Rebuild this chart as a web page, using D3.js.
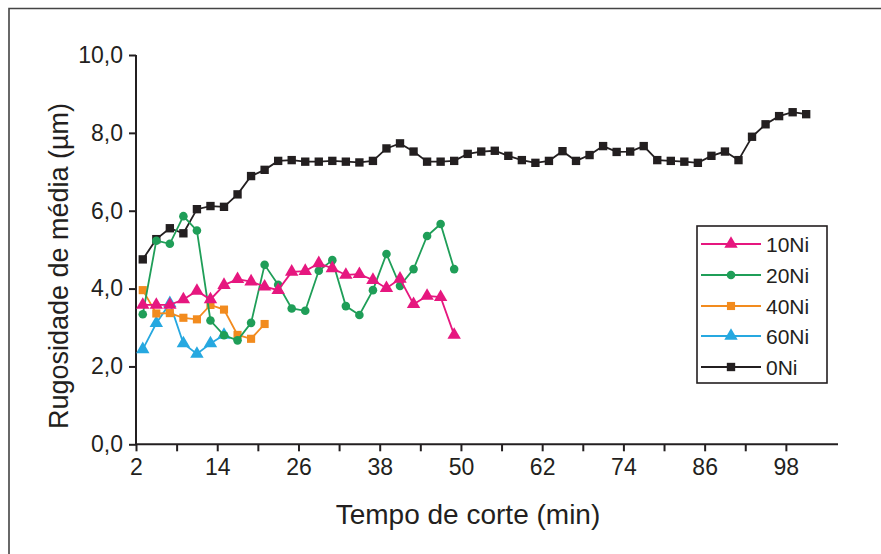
<!DOCTYPE html>
<html>
<head>
<meta charset="utf-8">
<script src="https://cdn.jsdelivr.net/npm/d3@7"></script>
<style>
  html, body { margin: 0; padding: 0; background: #fff; }
  svg { display: block; }
  text { font-family: "Liberation Sans", Arial, sans-serif; fill: #231f20; }
</style>
</head>
<body>
<svg id="chart" width="881" height="554"></svg>
<script>
// ---- data ----
const time0Ni = d3.range(3, 102, 2);      // 50 points, every 2 min
const values0Ni = [4.75, 5.27, 5.55, 5.42, 6.04, 6.12, 6.10, 6.42, 6.89, 7.05,
                   7.28, 7.30, 7.26, 7.26, 7.28, 7.26, 7.24, 7.28, 7.60, 7.73,
                   7.52, 7.26, 7.26, 7.28, 7.46, 7.52, 7.54, 7.41, 7.30, 7.23,
                   7.28, 7.53, 7.28, 7.43, 7.66, 7.51, 7.52, 7.66, 7.30, 7.28,
                   7.26, 7.23, 7.41, 7.52, 7.30, 7.90, 8.22, 8.43, 8.53, 8.48];
const time10Ni = d3.range(3, 50, 2);      // 24 points
const values10Ni = [3.58, 3.58, 3.58, 3.72, 3.94, 3.72, 4.09, 4.24, 4.18, 4.05,
                    3.96, 4.43, 4.45, 4.65, 4.52, 4.35, 4.37, 4.22, 4.01, 4.25,
                    3.60, 3.81, 3.78, 2.81];
const time20Ni = d3.range(3, 50, 2);
const values20Ni = [3.34, 5.23, 5.15, 5.86, 5.49, 3.18, 2.80, 2.67, 3.12, 4.61,
                    4.10, 3.49, 3.43, 4.46, 4.73, 3.55, 3.32, 3.96, 4.89, 4.07,
                    4.50, 5.35, 5.66, 4.50];
const time40Ni = d3.range(3, 22, 2);      // 10 points
const values40Ni = [3.96, 3.36, 3.37, 3.25, 3.21, 3.58, 3.46, 2.81, 2.71, 3.09];
const time60Ni = d3.range(3, 16, 2);      // 7 points
const values60Ni = [2.44, 3.11, 3.62, 2.59, 2.32, 2.59, 2.81];

const seriesNames = ["10Ni", "20Ni", "40Ni", "60Ni", "0Ni"];
const xTicks = d3.range(2, 99, 6);
const xTickLabels = [2, 14, 26, 38, 50, 62, 74, 86, 98];
const yTicks = [0, 2, 4, 6, 8, 10];

// ---- styles ----
const styles = {
  "10Ni": { color: "#e6177f", symbol: d3.symbolTriangle, size: 78 },
  "20Ni": { color: "#1f9e58", symbol: d3.symbolCircle, size: 58 },
  "40Ni": { color: "#f28b1e", symbol: d3.symbolSquare, size: 66 },
  "60Ni": { color: "#26a8e0", symbol: d3.symbolTriangle, size: 78 },
  "0Ni":  { color: "#231f20", symbol: d3.symbolSquare, size: 70 }
};

const series = [
  { name: "0Ni",  t: time0Ni,  v: values0Ni },
  { name: "60Ni", t: time60Ni, v: values60Ni },
  { name: "40Ni", t: time40Ni, v: values40Ni },
  { name: "20Ni", t: time20Ni, v: values20Ni },
  { name: "10Ni", t: time10Ni, v: values10Ni }
];

const svg = d3.select("#chart");
const FONT = "'Liberation Sans', Arial, sans-serif";

// frame (partial border of the figure)
svg.append("path")
  .attr("d", "M9,554 L9,8.5 L881,8.5")
  .attr("fill", "none").attr("stroke", "#444").attr("stroke-width", 1.6);

const x = d3.scaleLinear().domain([2, 105.7]).range([136, 838]);
const y = d3.scaleLinear().domain([0, 10]).range([444.3, 55]);

// x axis
const xAxis = d3.axisBottom(x)
  .tickValues(xTicks)
  .tickSize(7)
  .tickFormat(d => xTickLabels.includes(d) ? String(d) : "");
const gx = svg.append("g").attr("transform", `translate(0,${y(0)})`).call(xAxis);
gx.select(".domain").attr("d", `M${x(2)},0H${x(105.7)}`).attr("stroke", "#231f20").attr("stroke-width", 2);
gx.selectAll(".tick line").attr("stroke", "#231f20").attr("stroke-width", 2);
gx.selectAll(".tick text").attr("font-size", 23).attr("y", 9).attr("dy", "0.95em")
  .attr("fill", "#231f20").style("font-family", FONT);

// y axis
const yAxis = d3.axisLeft(y)
  .tickValues(yTicks)
  .tickSize(7)
  .tickPadding(6)
  .tickFormat(d => d3.format(".1f")(d).replace(".", ","));
const gy = svg.append("g").attr("transform", `translate(${x(2)},0)`).call(yAxis);
gy.select(".domain").attr("d", `M0,${y(0)}V${y(10)}`).attr("stroke", "#231f20").attr("stroke-width", 2);
gy.selectAll(".tick line").attr("stroke", "#231f20").attr("stroke-width", 2);
gy.selectAll(".tick text").attr("font-size", 23)
  .attr("fill", "#231f20").style("font-family", FONT);

// axis titles
svg.append("text")
  .attr("x", 468).attr("y", 524)
  .attr("text-anchor", "middle")
  .attr("font-size", 28)
  .text("Tempo de corte (min)");
svg.append("text")
  .attr("transform", "translate(68,266) rotate(-90)")
  .attr("text-anchor", "middle")
  .attr("font-size", 27)
  .text("Rugosidade de média (µm)");

// series
const line = d3.line().x(d => x(d.t)).y(d => y(d.v));
series.forEach(s => {
  const st = styles[s.name];
  const pts = s.t.map((t, i) => ({ t, v: s.v[i] }));
  const g = svg.append("g");
  g.append("path").datum(pts)
    .attr("d", line)
    .attr("fill", "none")
    .attr("stroke", st.color)
    .attr("stroke-width", 1.8);
  g.selectAll("path.m").data(pts).enter().append("path")
    .attr("class", "m")
    .attr("d", d3.symbol().type(st.symbol).size(st.size))
    .attr("transform", d => `translate(${x(d.t)},${y(d.v)})`)
    .attr("fill", st.color);
});

// legend
const lg = svg.append("g");
lg.append("rect")
  .attr("x", 697).attr("y", 226).attr("width", 130).attr("height", 157)
  .attr("fill", "#fff").attr("stroke", "#231f20").attr("stroke-width", 1.6);
const legendY = [244, 275, 306, 336, 367];
seriesNames.forEach((n, i) => {
  const st = styles[n];
  const yy = legendY[i];
  lg.append("line")
    .attr("x1", 701).attr("x2", 761).attr("y1", yy).attr("y2", yy)
    .attr("stroke", st.color).attr("stroke-width", 1.8);
  lg.append("path")
    .attr("d", d3.symbol().type(st.symbol).size(st.size)())
    .attr("transform", `translate(731,${yy})`)
    .attr("fill", st.color);
  lg.append("text")
    .attr("x", 766).attr("y", yy)
    .attr("dy", "0.36em")
    .attr("font-size", 21)
    .text(n);
});
</script>
</body>
</html>
